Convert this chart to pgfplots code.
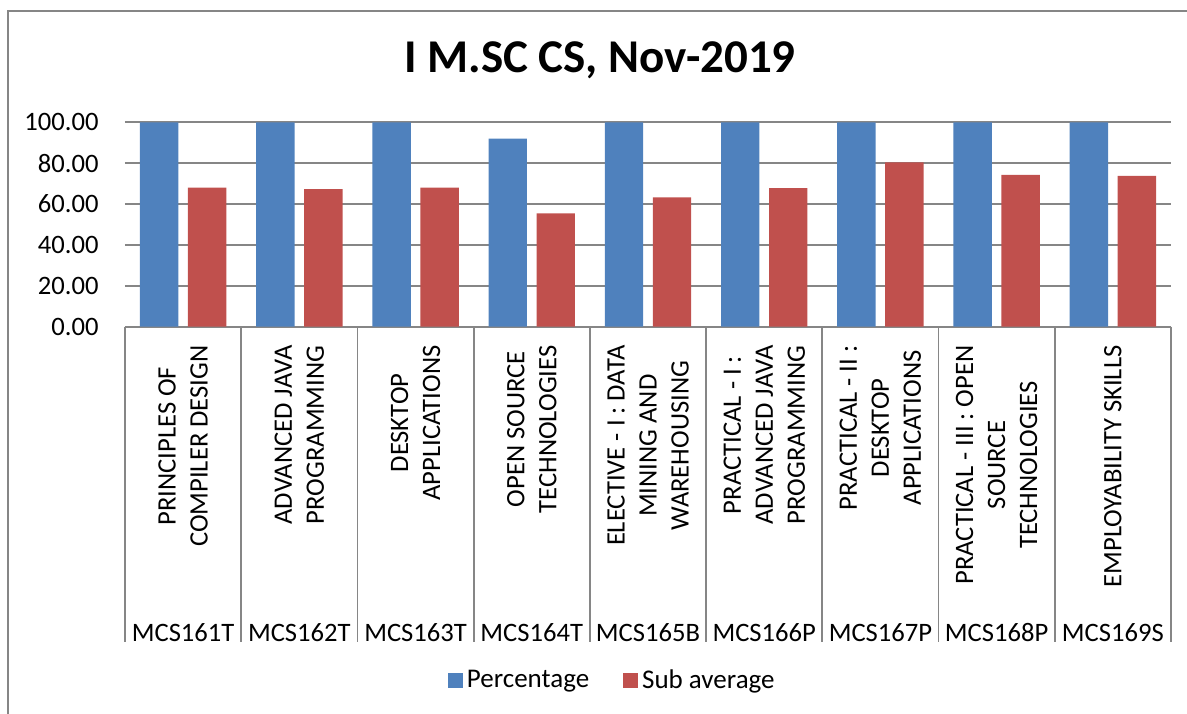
\documentclass[border=0pt]{standalone}
\usepackage{fontspec}
\setmainfont{Carlito}
\usepackage{pgfplots}
\pgfplotsset{compat=1.18}
\definecolor{pblue}{HTML}{4F81BD}
\definecolor{pred}{HTML}{C0504D}
\definecolor{gline}{RGB}{134,134,134}
\begin{document}
\begin{tikzpicture}
\path[use as bounding box] (0,0) rectangle (593.5pt,356.5pt);
\draw[gline, line width=1pt] (4pt,-5pt) -- (4pt,351pt) -- (600pt,351pt);
\node[anchor=base, font=\bfseries\fontsize{23.5}{28}\selectfont] at (300pt,320pt) {I M.SC CS, Nov-2019};
\begin{axis}[
  at={(62.5pt,193.15pt)}, anchor=south west,
  scale only axis, width=523pt, height=102.2pt,
  xmin=0.5, xmax=9.5, ymin=0, ymax=100,
  ybar=4.8pt, bar width=19.2pt,
  axis line style={draw=none},
  ymajorgrids, grid style={gline, line width=0.9pt},
  ytick={0,20,...,100},
  ytick style={draw=none}, xtick style={draw=none},
  yticklabel style={/pgf/number format/fixed, /pgf/number format/fixed zerofill, /pgf/number format/precision=2, /pgf/number format/assume math mode=true},
  yticklabel style={font=\fontsize{13.3}{15}\selectfont, inner sep=0pt, xshift=-13pt},
  xtick={1,...,9},
  xticklabels={MCS161T,MCS162T,MCS163T,MCS164T,MCS165B,MCS166P,MCS167P,MCS168P,MCS169S},
  xticklabel style={font=\fontsize{13.3}{15}\selectfont, inner sep=0pt, anchor=base, yshift=-153pt},
  clip=false,
  legend columns=2,
  legend style={at={(0.4668,-1.731)}, anchor=center, draw=none, font=\fontsize{13.5}{15}\selectfont,
    /tikz/every even column/.append style={column sep=15pt}},
  legend image code/.code={\fill[#1] (0pt,-3.75pt) rectangle (7.5pt,3.75pt);},
]
\addplot[fill=pblue, draw=none] coordinates {(1,100)(2,100)(3,100)(4,92)(5,100)(6,100)(7,100)(8,100)(9,100)};
\addplot[fill=pred, draw=none] coordinates {(1,68)(2,67.3)(3,68)(4,55.5)(5,63.3)(6,67.8)(7,80.4)(8,74.3)(9,73.8)};
\legend{Percentage, Sub average}
\pgfplotsinvokeforeach{0.5,1.5,2.5,3.5,4.5,5.5,6.5,7.5,8.5,9.5}{
  \draw[gline, line width=0.9pt] (axis cs:#1,0) -- ++(0pt,-157.5pt);
}
\tikzset{catlab/.style={yshift=-9.2pt, rotate=90, anchor=east, align=center, inner sep=0pt, font=\fontsize{13.3}{16}\selectfont}}
\node[catlab] at (axis cs:1,0) {PRINCIPLES OF\\COMPILER DESIGN};
\node[catlab] at (axis cs:2,0) {ADVANCED JAVA\\PROGRAMMING};
\node[catlab] at (axis cs:3,0) {DESKTOP\\APPLICATIONS};
\node[catlab] at (axis cs:4,0) {OPEN SOURCE\\TECHNOLOGIES};
\node[catlab] at (axis cs:5,0) {ELECTIVE - I : DATA\\MINING AND\\WAREHOUSING};
\node[catlab] at (axis cs:6,0) {PRACTICAL - I :\\ADVANCED JAVA\\PROGRAMMING};
\node[catlab] at (axis cs:7,0) {PRACTICAL - II :\\DESKTOP\\APPLICATIONS};
\node[catlab] at (axis cs:8,0) {PRACTICAL - III : OPEN\\SOURCE\\TECHNOLOGIES};
\node[catlab] at (axis cs:9,0) {EMPLOYABILITY SKILLS};
\end{axis}
\end{tikzpicture}
\end{document}
